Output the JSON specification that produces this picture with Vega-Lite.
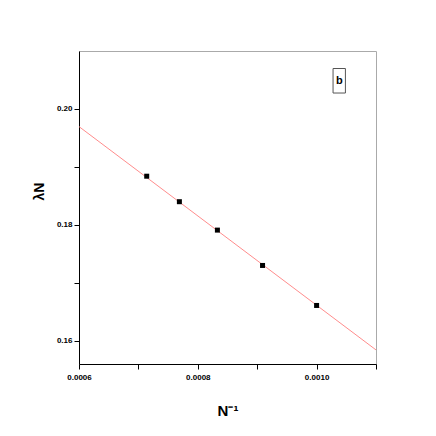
{
  "$schema": "https://vega.github.io/schema/vega-lite/v6.json",
  "autosize": "none",
  "width": 297,
  "height": 313,
  "padding": {"left": 79, "top": 51, "right": 60, "bottom": 72},
  "background": "white",
  "config": {
    "view": {"stroke": "#aaaaaa", "strokeWidth": 1},
    "axis": {
      "grid": false,
      "domainColor": "black",
      "domainWidth": 1,
      "tickColor": "black",
      "tickSize": 5,
      "labelFont": "Liberation Sans",
      "labelFontWeight": "bold",
      "labelFontSize": 8,
      "labelColor": "black",
      "titleFont": "Liberation Sans",
      "titleFontWeight": "bold",
      "titleColor": "black"
    }
  },
  "datasets": {
    "points": [
      {"invN": 0.000714, "lambda": 0.1884},
      {"invN": 0.000769, "lambda": 0.1840},
      {"invN": 0.000833, "lambda": 0.1791},
      {"invN": 0.000909, "lambda": 0.1730},
      {"invN": 0.001, "lambda": 0.1661}
    ],
    "fit": [
      {"invN": 0.0006, "lambda": 0.19696},
      {"invN": 0.0011, "lambda": 0.15843}
    ],
    "panel": [
      {"label": "b", "x": 0.0010382, "y": 0.2043, "x1": 0.0010277, "x2": 0.0010485, "y1": 0.20275, "y2": 0.20698}
    ]
  },
  "layer": [
    {
      "data": {"name": "fit"},
      "mark": {"type": "line", "color": "#ff7f7f", "strokeWidth": 0.9, "clip": true},
      "encoding": {
        "x": {
          "field": "invN", "type": "quantitative",
          "scale": {"domain": [0.0006, 0.0011], "nice": false, "zero": false},
          "axis": {
            "title": "N⁻¹",
            "titleFontSize": 15,
            "titleY": 51,
            "titleBaseline": "alphabetic",
            "values": [0.0006, 0.0007, 0.0008, 0.0009, 0.001, 0.0011],
            "labelExpr": "round(datum.value*10000) % 2 == 0 ? format(datum.value, '.4f') : ''",
            "labelPadding": 4,
            "labelFlush": false
          }
        },
        "y": {
          "field": "lambda", "type": "quantitative",
          "scale": {"domain": [0.156, 0.21], "nice": false, "zero": false},
          "axis": {
            "title": "λN",
            "titleFontSize": 14,
            "titleAngle": -90,
            "titleX": -36,
            "titleY": 140,
            "titleAlign": "center",
            "titleBaseline": "alphabetic",
            "values": [0.16, 0.17, 0.18, 0.19, 0.2],
            "labelExpr": "round(datum.value*100) % 2 == 0 ? format(datum.value, '.2f') : ''",
            "labelPadding": 2,
            "labelFlush": false
          }
        }
      }
    },
    {
      "data": {"name": "points"},
      "mark": {"type": "square", "color": "black", "filled": true, "size": 25, "opacity": 1},
      "encoding": {
        "x": {"field": "invN", "type": "quantitative"},
        "y": {"field": "lambda", "type": "quantitative"}
      }
    },
    {
      "data": {"name": "panel"},
      "mark": {"type": "rect", "fill": null, "stroke": "#555555", "strokeWidth": 1},
      "encoding": {
        "x": {"field": "x1", "type": "quantitative"},
        "x2": {"field": "x2"},
        "y": {"field": "y1", "type": "quantitative"},
        "y2": {"field": "y2"}
      }
    },
    {
      "data": {"name": "panel"},
      "mark": {"type": "text", "font": "Liberation Sans", "fontWeight": "bold", "fontSize": 11, "baseline": "alphabetic", "align": "center", "color": "black"},
      "encoding": {
        "x": {"field": "x", "type": "quantitative"},
        "y": {"field": "y", "type": "quantitative"},
        "text": {"field": "label"}
      }
    }
  ]
}
